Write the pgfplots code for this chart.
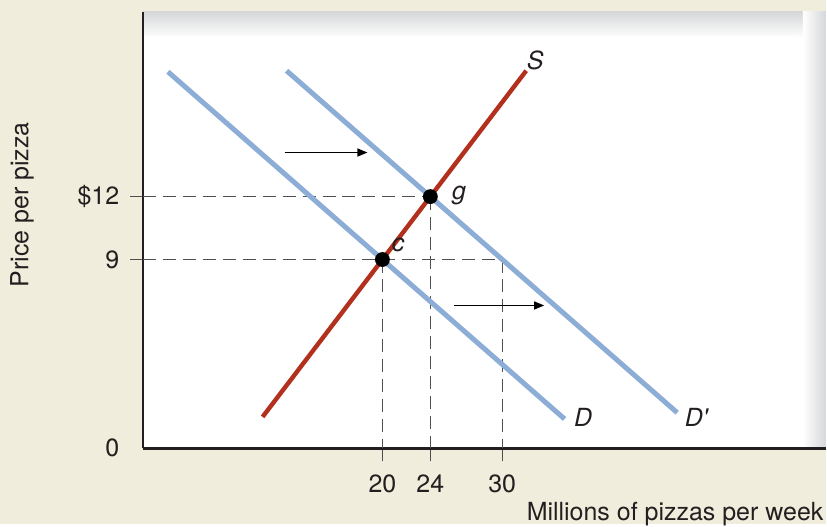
\documentclass[border=0pt]{standalone}
\usepackage{fontspec}
\setmainfont{TeX Gyre Heros}
\usepackage{pgfplots}
\pgfplotsset{compat=1.18}
\usetikzlibrary{arrows.meta}
\definecolor{bg}{HTML}{F1EDDC}
\definecolor{shadowgray}{HTML}{D6D7D9}
\definecolor{dblue}{HTML}{8CADD6}
\definecolor{sred}{HTML}{B3301F}
\definecolor{txt}{HTML}{231F20}
\definecolor{dashgray}{HTML}{505050}
\newcommand{\fs}{\fontsize{12.5}{15}\selectfont}
\begin{document}
\begin{tikzpicture}[font=\fs]
\begin{scope}[x=0.5pt,y=-0.5pt,yshift=262.5pt]
  \useasboundingbox (0,0) rectangle (827,525);
  \fill[bg] (0,0) rectangle (827,525);
  \fill[white] (143,12) rectangle (827,449);
  \shade[top color=shadowgray, bottom color=white] (143,12) rectangle (827,38);
  \shade[left color=white, right color=shadowgray] (804,12) rectangle (827,449);
  \fill[white] (143,449) -- (143,36) {[rounded corners=6pt] -- (805,36) -- (805,449)} -- cycle;
\end{scope}
\begin{axis}[
  at={(71.5pt,38pt)}, anchor=south west,
  scale only axis, width=342pt, height=218.5pt,
  xmin=0, xmax=57, ymin=0, ymax=20.8,
  axis lines*=left,
  axis line style={-, line width=1.25pt, color=txt},
  xtick={20,24,30}, ytick={9,12}, yticklabels={9,\$12},
  extra y ticks={0}, extra y tick labels={0},
  extra y tick style={major tick style={draw opacity=0}},
  tick align=outside, major tick length=6.5pt,
  tick style={dashgray, line width=0.6pt},
  /pgf/number format/assume math mode=true,
  ticklabel style={text=txt, font=\fs},
  xticklabel style={yshift=-3.3pt},
  yticklabel style={xshift=-1.8pt},
  clip=false,
  xlabel={Millions of pizzas per week},
  xlabel style={at={(axis description cs:1,0)}, anchor=north east, inner sep=0pt, yshift=-27pt, xshift=-1pt, text=txt, font=\fs},
  ylabel={Price per pizza},
  ylabel style={at={(axis description cs:-0.1769,0.558)}, anchor=center, text=txt, font=\fs},
]
% dashed guides
\addplot[dashgray, line width=0.75pt, dash pattern=on 6.5pt off 3.5pt] coordinates {(0,12) (24,12)};
\addplot[dashgray, line width=0.75pt, dash pattern=on 6.5pt off 3.5pt] coordinates {(0,9) (30,9)};
\addplot[dashgray, line width=0.75pt, dash pattern=on 6.5pt off 3.5pt] coordinates {(20,9) (20,0)};
\addplot[dashgray, line width=0.75pt, dash pattern=on 6.5pt off 3.5pt] coordinates {(24,12) (24,0)};
\addplot[dashgray, line width=0.75pt, dash pattern=on 6.5pt off 3.5pt] coordinates {(30,9) (30,0)};
% demand curves
\addplot[dblue, line width=2.5pt] coordinates {(2.1,17.95) (35.2,1.4)};
\addplot[dblue, line width=2.5pt] coordinates {(12,18) (44.6,1.7)};
% supply
\addplot[sred, line width=2.2pt] coordinates {(10,1.5) (32,18)};
% equilibrium points
\addplot[only marks, mark=*, mark size=3.5pt, black] coordinates {(20,9) (24,12)};
% shift arrows
\addplot[black, line width=0.6pt, -{Triangle[length=5pt, width=4pt]}] coordinates {(11.83,14.1) (18.75,14.1)};
\addplot[black, line width=0.6pt, -{Triangle[length=5pt, width=4pt]}] coordinates {(26,6.81) (33.5,6.81)};
% labels
\node[text=txt, font=\fs\itshape] at (axis cs:32.75,18.5) {S};
\node[text=txt, font=\fs\itshape] at (axis cs:36.75,1.48) {D};
\node[text=txt, font=\fs\itshape] at (axis cs:46.2,1.48) {D\textquotesingle};
\node[text=txt, font=\fs\itshape] at (axis cs:26.4,12.05) {g};
\node[text=txt, font=\fs\itshape] at (axis cs:21.3,9.7) {c};
\end{axis}
\end{tikzpicture}
\end{document}
